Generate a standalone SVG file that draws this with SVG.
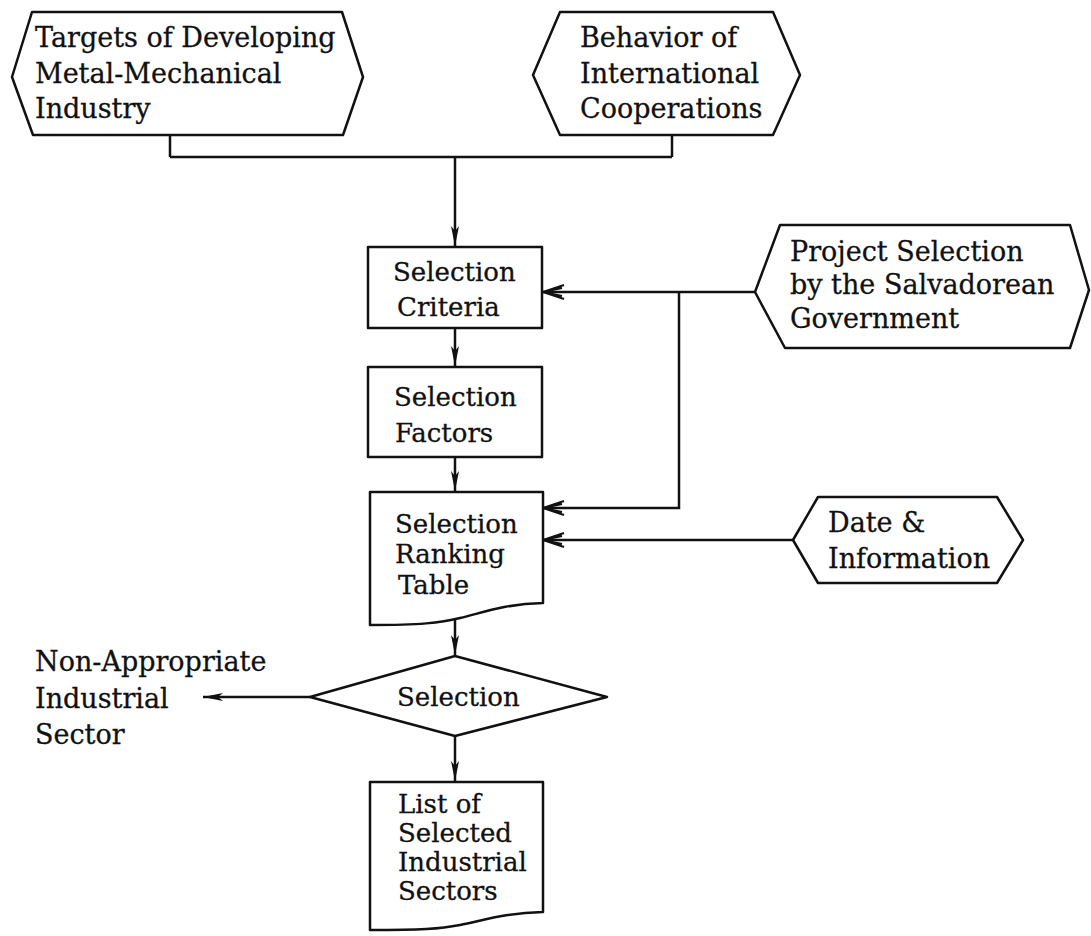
<svg xmlns="http://www.w3.org/2000/svg" width="1091" height="936" viewBox="0 0 1091 936">
<style>
.s{fill:#fff;stroke:#111;stroke-width:2.5;stroke-linejoin:round}
.t{font-family:"DejaVu Serif","Liberation Serif",serif;font-size:27px;fill:#111;stroke:#111;stroke-width:0.3}
.b{font-size:26px}
.c{fill:none;stroke:#111;stroke-width:2.5}
</style>
<defs>
<marker id="af" viewBox="0 0 20 10" refX="20" refY="5" markerWidth="20" markerHeight="10" markerUnits="userSpaceOnUse" orient="auto">
<path d="M0,1 L20,5 L0,9 L5,5 Z" fill="#111"/>
</marker>
<marker id="ao" viewBox="0 0 24 16" refX="23" refY="8" markerWidth="24" markerHeight="16" markerUnits="userSpaceOnUse" orient="auto">
<path d="M2,1 L23,8 L2,15 M4,4 L23,8 L4,12" fill="none" stroke="#111" stroke-width="2"/>
</marker>
</defs>
<rect width="1091" height="936" fill="#fff"/>
<g id="connectors">
<path class="c" d="M170,135 V157 M672,135 V157 M170,157 H672"/>
<path class="c" d="M455,157 V246" marker-end="url(#af)"/>
<path class="c" d="M755,292 H543" marker-end="url(#ao)"/>
<path class="c" d="M679,292 V508 H543" marker-end="url(#ao)"/>
<path class="c" d="M793,540 H543" marker-end="url(#ao)"/>
<path class="c" d="M455,328 V366" marker-end="url(#af)"/>
<path class="c" d="M455,457 V491" marker-end="url(#af)"/>
<path class="c" d="M455,618 V655" marker-end="url(#af)"/>
<path class="c" d="M310,697 H203" marker-end="url(#af)"/>
<path class="c" d="M455,736 V781" marker-end="url(#af)"/>
</g>
<g id="targets">
<path class="s" d="M32,12 H342 L363,77 L343,135 H33 L12,77 Z"/>
<text class="t" x="35" y="47">Targets of Developing</text>
<text class="t" x="35" y="83">Metal-Mechanical</text>
<text class="t" x="35" y="118">Industry</text>
</g>
<g id="behavior">
<path class="s" d="M560,12 H773 L800,75 L773,135 H560 L533,75 Z"/>
<text class="t" x="580" y="47">Behavior of</text>
<text class="t" x="580" y="83">International</text>
<text class="t" x="580" y="118">Cooperations</text>
</g>
<g id="criteria">
<rect class="s" x="368" y="247" width="174" height="81"/>
<text class="t b" x="393" y="281">Selection</text>
<text class="t b" x="397" y="316">Criteria</text>
</g>
<g id="project">
<path class="s" d="M780,225 H1070 L1089,290 L1070,348 H785 L755,292 Z"/>
<text class="t" x="790" y="261">Project Selection</text>
<text class="t" x="790" y="294">by the Salvadorean</text>
<text class="t" x="790" y="328">Government</text>
</g>
<g id="factors">
<rect class="s" x="368" y="367" width="174" height="90"/>
<text class="t b" x="394" y="406">Selection</text>
<text class="t b" x="395" y="442">Factors</text>
</g>
<g id="ranking">
<path class="s" d="M370,492 H543 V603 C505,604 485,612 460,618 C440,623 420,625 370,625 Z"/>
<text class="t b" x="395" y="533">Selection</text>
<text class="t b" x="395" y="563">Ranking</text>
<text class="t b" x="398" y="594">Table</text>
</g>
<g id="date">
<path class="s" d="M818,497 H997 L1023,540 L997,583 H818 L793,540 Z"/>
<text class="t" x="828" y="532">Date &amp;</text>
<text class="t" x="828" y="568">Information</text>
</g>
<g id="selection">
<path class="s" d="M455,656 L607,697 L455,736 L310,697 Z"/>
<text class="t b" x="397" y="706">Selection</text>
</g>
<g id="nonapp">
<text class="t" x="35" y="671">Non-Appropriate</text>
<text class="t" x="35" y="708">Industrial</text>
<text class="t" x="35" y="744">Sector</text>
</g>
<g id="list">
<path class="s" d="M370,782 H543 V912 C505,913 485,920 460,925 C440,929 420,930 370,930 Z"/>
<text class="t b" x="398" y="813">List of</text>
<text class="t b" x="398" y="842">Selected</text>
<text class="t b" x="398" y="871">Industrial</text>
<text class="t b" x="398" y="900">Sectors</text>
</g>
</svg>
